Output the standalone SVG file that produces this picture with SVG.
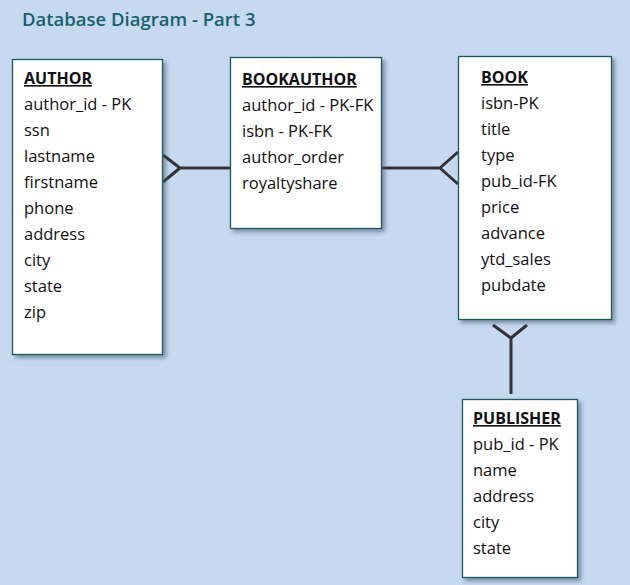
<svg xmlns="http://www.w3.org/2000/svg" width="630" height="585" viewBox="0 0 630 585">
<defs>
<style>
.box{fill:#ffffff;stroke:#1d5a60;stroke-width:1.3}
.t{font-family:"Open Sans","Liberation Sans",sans-serif;font-size:16.5px;fill:#111}
.h{font-family:"Open Sans","Liberation Sans",sans-serif;font-size:16px;font-weight:bold;fill:#111;text-decoration:underline}
.c{stroke:#333;stroke-width:3;fill:none}
.title{font-family:"Open Sans","Liberation Sans",sans-serif;font-size:18.5px;font-weight:600;fill:#17626b}
</style>
<filter id="sh" x="-10%" y="-10%" width="130%" height="130%">
<feDropShadow dx="3" dy="3" stdDeviation="2" flood-color="#4a5a70" flood-opacity="0.6"/>
</filter>
</defs>
<rect width="630" height="585" fill="#c6d9f1"/>
<text class="title" x="22" y="26">Database Diagram - Part 3</text>
<g id="connectors">
<path class="c" d="M180 168H230M163 155L180 168L163 182"/>
<path class="c" d="M381 168H440M458 152L440 168L458 184"/>
<path class="c" d="M511 338V394M493 325L511 338L527 325"/>
</g>
<g id="author">
<rect class="box" x="12.5" y="59.5" width="150" height="295" filter="url(#sh)"/>
<text class="h" x="24" y="84">AUTHOR</text>
<text class="t" x="24" y="110">author_id - PK</text>
<text class="t" x="24" y="136">ssn</text>
<text class="t" x="24" y="162">lastname</text>
<text class="t" x="24" y="188">firstname</text>
<text class="t" x="24" y="214">phone</text>
<text class="t" x="24" y="240">address</text>
<text class="t" x="24" y="266">city</text>
<text class="t" x="24" y="292">state</text>
<text class="t" x="24" y="318">zip</text>
</g>
<g id="bookauthor">
<rect class="box" x="230.5" y="57.5" width="151" height="171" filter="url(#sh)"/>
<text class="h" x="242" y="85">BOOKAUTHOR</text>
<text class="t" x="242" y="111">author_id - PK-FK</text>
<text class="t" x="242" y="137">isbn - PK-FK</text>
<text class="t" x="242" y="163">author_order</text>
<text class="t" x="242" y="189">royaltyshare</text>
</g>
<g id="book">
<rect class="box" x="458.5" y="56.5" width="153" height="263" filter="url(#sh)"/>
<text class="h" x="481" y="83">BOOK</text>
<text class="t" x="481" y="109">isbn-PK</text>
<text class="t" x="481" y="135">title</text>
<text class="t" x="481" y="161">type</text>
<text class="t" x="481" y="187">pub_id-FK</text>
<text class="t" x="481" y="213">price</text>
<text class="t" x="481" y="239">advance</text>
<text class="t" x="481" y="265">ytd_sales</text>
<text class="t" x="481" y="291">pubdate</text>
</g>
<g id="publisher">
<rect class="box" x="462.5" y="399.5" width="115" height="178" filter="url(#sh)"/>
<text class="h" x="473" y="424">PUBLISHER</text>
<text class="t" x="473" y="450">pub_id - PK</text>
<text class="t" x="473" y="476">name</text>
<text class="t" x="473" y="502">address</text>
<text class="t" x="473" y="528">city</text>
<text class="t" x="473" y="554">state</text>
</g>
</svg>
